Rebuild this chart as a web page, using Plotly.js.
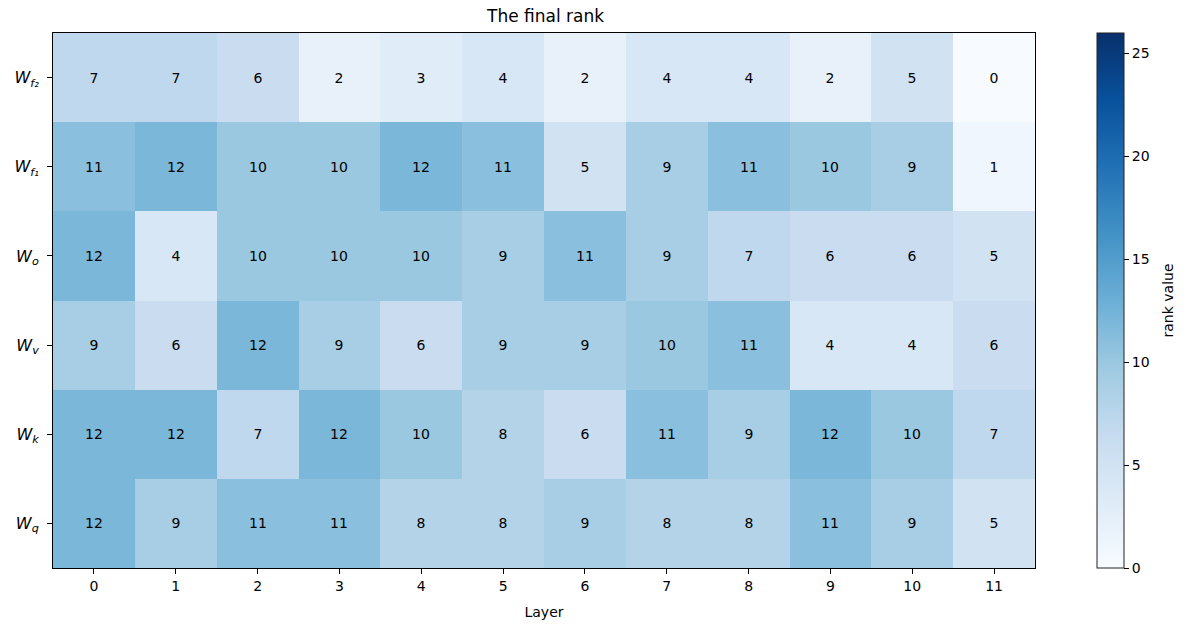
<!DOCTYPE html>
<html>
<head>
<meta charset="utf-8">
<script src="https://cdn.plot.ly/plotly-3.0.1.min.js"></script>
<style>html,body{margin:0;padding:0;background:#fff;}</style>
</head>
<body>
<div id="chart" style="width:1190px;height:629px;"></div>
<script>
// Layers along the x axis
const layers = [0, 1, 2, 3, 4, 5, 6, 7, 8, 9, 10, 11];
// Weight matrices, bottom row first
const weights = [
  '<i>W<sub>q</sub></i>',
  '<i>W<sub>k</sub></i>',
  '<i>W<sub>v</sub></i>',
  '<i>W<sub>o</sub></i>',
  '<i>W<sub>f₁</sub></i>',
  '<i>W<sub>f₂</sub></i>'
];
// Final rank per weight matrix and layer
const rankWq  = [12, 9, 11, 11, 8, 8, 9, 8, 8, 11, 9, 5];
const rankWk  = [12, 12, 7, 12, 10, 8, 6, 11, 9, 12, 10, 7];
const rankWv  = [9, 6, 12, 9, 6, 9, 9, 10, 11, 4, 4, 6];
const rankWo  = [12, 4, 10, 10, 10, 9, 11, 9, 7, 6, 6, 5];
const rankWf1 = [11, 12, 10, 10, 12, 11, 5, 9, 11, 10, 9, 1];
const rankWf2 = [7, 7, 6, 2, 3, 4, 2, 4, 4, 2, 5, 0];

const z = [rankWq, rankWk, rankWv, rankWo, rankWf1, rankWf2];

// Sequential blue scale
const blues = [
  [0.0, '#f7fbff'], [0.125, '#deebf7'], [0.25, '#c6dbef'],
  [0.375, '#9ecae1'], [0.5, '#6baed6'], [0.625, '#4292c6'],
  [0.75, '#2171b5'], [0.875, '#08519c'], [1.0, '#08306b']
];

const font = 'DejaVu Sans, sans-serif';

const trace = {
  type: 'heatmap',
  x: layers,
  y: weights,
  z: z,
  zmin: 0,
  zmax: 26,
  colorscale: blues,
  texttemplate: '%{z}',
  textfont: {family: font, size: 14, color: '#000'},
  colorbar: {
    x: 1.063, xanchor: 'left',
    y: 0, yanchor: 'bottom', len: 1, lenmode: 'fraction',
    thickness: 27, thicknessmode: 'pixels',
    outlinecolor: '#222', outlinewidth: 1,
    ticks: 'outside', ticklen: 5, tickcolor: '#000',
    tickvals: [0, 5, 10, 15, 20, 25],
    tickfont: {family: font, size: 14, color: '#000'},
    xpad: 0, ypad: 0
  }
};

const layout = {
  width: 1190, height: 629,
  margin: {l: 53, r: 155, t: 33, b: 61},
  paper_bgcolor: '#fff', plot_bgcolor: '#fff',
  title: {text: 'The final rank', font: {family: font, size: 17, color: '#000'},
          x: 0.4585, xanchor: 'center', y: 0.975, yanchor: 'middle'},
  xaxis: {
    type: 'category',
    title: {text: 'Layer', font: {family: font, size: 14, color: '#000'}, standoff: 14},
    tickfont: {family: font, size: 14, color: '#000'},
    ticks: 'outside', ticklen: 5, tickcolor: '#000',
    showline: true, linecolor: '#000', linewidth: 1, mirror: true,
    showgrid: false, zeroline: false
  },
  yaxis: {
    type: 'category',
    tickfont: {family: font, size: 16, color: '#000'},
    ticks: 'outside', ticklen: 5, tickcolor: '#000',
    ticklabelstandoff: 5,
    showline: true, linecolor: '#000', linewidth: 1, mirror: true,
    showgrid: false, zeroline: false
  },
  annotations: [{
    text: 'rank value', textangle: -90,
    xref: 'paper', yref: 'paper', x: 1.1354, y: 0.5,
    xanchor: 'center', yanchor: 'middle', showarrow: false,
    font: {family: font, size: 14, color: '#000'}
  }],
  font: {family: font, color: '#000'}
};

Plotly.newPlot('chart', [trace], layout, {displayModeBar: false, staticPlot: true});
</script>
</body>
</html>
